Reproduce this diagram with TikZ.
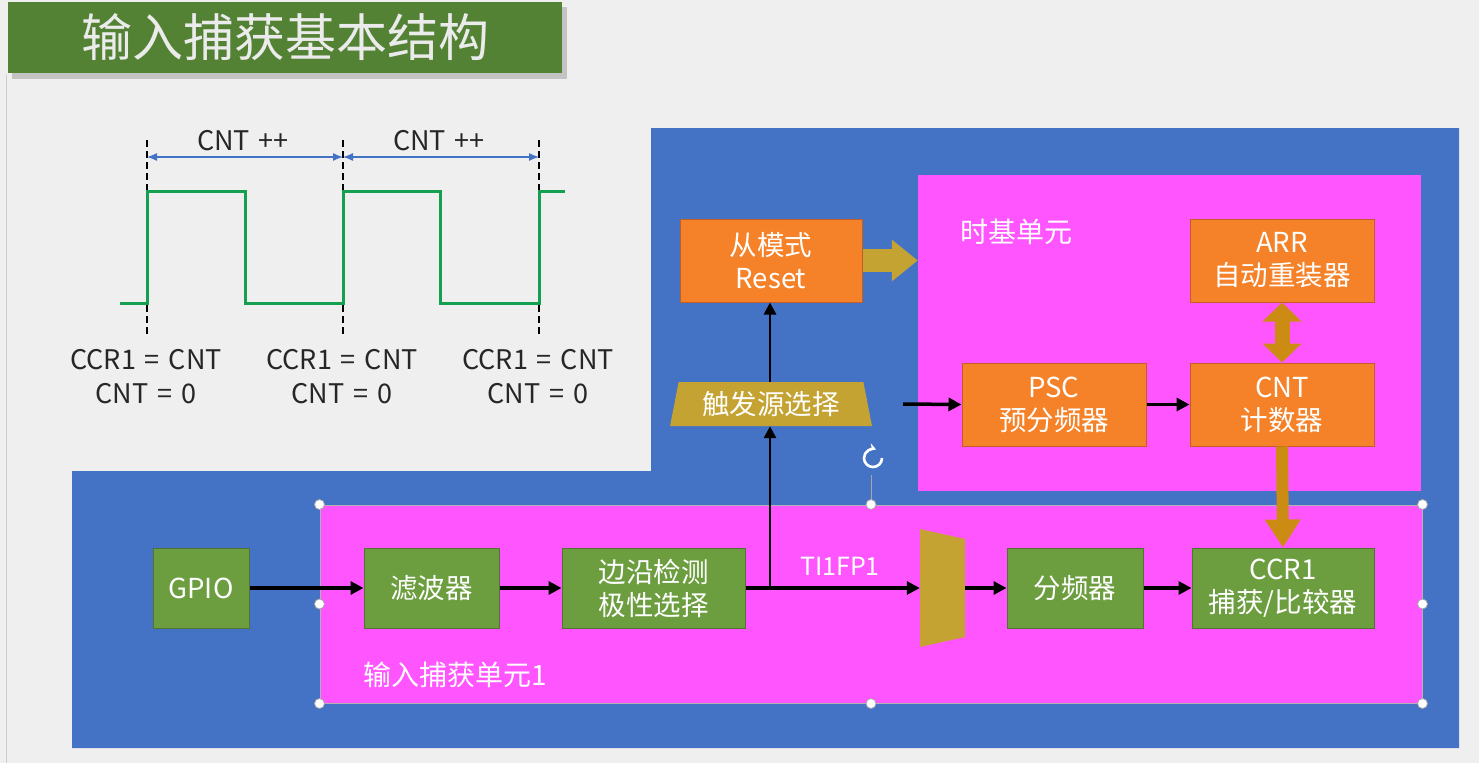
\documentclass[tikz,border=0pt]{standalone}
\usepackage{fontspec}
\setmainfont{Noto Sans CJK SC}
\usetikzlibrary{arrows.meta,shapes.geometric}
\definecolor{bgc}{RGB}{240,239,239}
\definecolor{titlegreen}{RGB}{84,130,53}
\definecolor{bluebg}{RGB}{68,114,196}
\definecolor{magent}{RGB}{255,85,255}
\definecolor{ofill}{RGB}{245,130,40}
\definecolor{obord}{RGB}{190,95,40}
\definecolor{gfill}{RGB}{108,158,64}
\definecolor{gbord}{RGB}{80,115,50}
\definecolor{olive}{RGB}{196,163,50}
\definecolor{amber}{RGB}{204,140,20}
\definecolor{wavegreen}{RGB}{20,160,80}
\definecolor{dimblue}{RGB}{68,114,196}
\newcommand{\boxfont}{\fontsize{27.5}{33}\selectfont}
\newcommand{\wsp}{\hspace{0.33em}}
\tikzset{
  box/.style={line width=1pt, text=white, font=\boxfont, align=center, inner sep=0pt},
  obox/.style={box, draw=obord, fill=ofill},
  gbox/.style={box, draw=gbord, fill=gfill},
  arr/.style={draw=black, line width=3.5pt, -{Triangle[length=13pt,width=13pt]}},
  varr/.style={draw=black, line width=2.8pt, -{Triangle[length=12pt,width=12pt]}},
  wlabel/.style={font=\fontsize{27}{34}\selectfont, text=black!85, align=center, inner sep=0pt},
  dim/.style={draw=dimblue, line width=1.2pt, {Latex[length=10pt,width=8pt]}-{Latex[length=10pt,width=8pt]}},
  unitlabel/.style={font=\fontsize{28}{32}\selectfont, text=white, inner sep=0pt},
  handle/.style={circle, fill=white, draw=gray!70, line width=0.8pt, minimum size=10pt, inner sep=0pt}
}
\begin{document}
\begin{tikzpicture}[x=1pt,y=-1pt]
\useasboundingbox (0,0) rectangle (1479,763);
\fill[bgc] (0,0) rectangle (1479,763);
\draw[gray!40, line width=1pt] (6,75) -- (6,763);
% title
\fill[black, opacity=0.18] (12,7) rectangle (567,79);
\node[fill=titlegreen, minimum width=554pt, minimum height=71pt, inner sep=0pt, text=white!92!black,
      font=\fontsize{51}{56}\selectfont] (title) at (285,37.5) {输入捕获基本结构};
% waveform
\draw[black, line width=2pt, dash pattern=on 7pt off 4pt] (147,140) -- (147,336);
\draw[black, line width=2pt, dash pattern=on 7pt off 4pt] (343,140) -- (343,336);
\draw[black, line width=2pt, dash pattern=on 7pt off 4pt] (539,140) -- (539,336);
\draw[wavegreen, line width=3pt, line join=miter]
  (120,303) -- (147,303) -- (147,191) -- (245,191) -- (245,303) -- (343,303) -- (343,191)
  -- (440,191) -- (440,303) -- (539,303) -- (539,191) -- (565,191);
\coordinate (m1) at (147,157);
\coordinate (m2) at (343,157);
\coordinate (m3) at (539,157);
\draw[dim] (m1) -- (m2);
\draw[dim] (m2) -- (m3);
\node[wlabel] (c1) at (243,141) {CNT\wsp++};
\node[wlabel] (c2) at (439,141) {CNT\wsp++};
\node[wlabel] (w1) at (146,377) {CCR1\wsp=\wsp CNT\\CNT\wsp=\wsp 0};
\node[wlabel] (w2) at (342,377) {CCR1\wsp=\wsp CNT\\CNT\wsp=\wsp 0};
\node[wlabel] (w3) at (538,377) {CCR1\wsp=\wsp CNT\\CNT\wsp=\wsp 0};
% blue region
\fill[bluebg] (651,128) -- (1459,128) -- (1459,748) -- (72,748) -- (72,471) -- (651,471) -- cycle;
% time base unit
\node[fill=magent, minimum width=503pt, minimum height=316pt, inner sep=0pt] (tb) at (1169.5,333) {};
\node[unitlabel, anchor=west] (tblabel) at (960,232) {时基单元};
% input capture unit
\node[fill=magent, draw=gray!60, line width=1pt, minimum width=1102pt, minimum height=198pt, inner sep=0pt] (ic) at (871,604) {};
\node[unitlabel, anchor=west] (iclabel) at (363,675) {输入捕获单元1};
% orange boxes
\node[obox, minimum width=182pt, minimum height=83pt] (slave) at (771,260.5) {从模式\\Reset};
\node[obox, minimum width=184pt, minimum height=83pt] (arrb) at (1282,260.5) {ARR\\自动重装器};
\node[obox, minimum width=184pt, minimum height=83pt] (psc) at (1054,404.5) {PSC\\预分频器};
\node[obox, minimum width=184pt, minimum height=83pt] (cnt) at (1282,404.5) {CNT\\计数器};
% trigger select
\node[trapezium, trapezium stretches=true, trapezium angle=76, fill=olive, minimum width=202pt, minimum height=44pt,
      inner sep=0pt, text=white, font=\boxfont] (trig) at (771,404) {触发源选择};
% green boxes
\node[gbox, minimum width=96pt, minimum height=80pt] (gpio) at (201,588) {GPIO};
\node[gbox, minimum width=135pt, minimum height=80pt] (filt) at (431.5,588) {滤波器};
\node[gbox, minimum width=183pt, minimum height=80pt] (edge) at (653.5,588) {边沿检测\\极性选择};
\node[gbox, minimum width=136pt, minimum height=80pt] (div) at (1075,588) {分频器};
\node[gbox, minimum width=182pt, minimum height=80pt] (ccr) at (1283,588) {CCR1\\捕获/比较器};
% mux
\fill[olive] (920,529) -- (965,539) -- (965,637) -- (920,647) -- cycle;
\node[minimum width=45pt, minimum height=118pt, inner sep=0pt] (mux) at (942.5,588) {};
\node[font=\fontsize{25}{28}\selectfont, text=white, inner sep=0pt] (ti) at (840,566) {TI1FP1};
% thick arrows
\draw[olive, line width=23pt, -{Triangle[length=26pt,width=40pt]}] (slave.east) -- (tb.west |- slave.east);
\draw[amber, line width=15pt, {Triangle[length=19pt,width=38pt]}-{Triangle[length=19pt,width=38pt]}] (arrb.south) -- (cnt.north);
\draw[amber, line width=12pt, -{Triangle[length=28pt,width=34pt]}] (cnt.south) -- (ccr.north);
% black arrows
\coordinate (junc) at (770,588);
\coordinate (pscin) at (903,404);
\draw[arr] (gpio.east) -- (filt.west);
\draw[arr] (filt.east) -- (edge.west);
\draw[arr] (edge.east) -- (mux.west);
\draw[arr] (mux.east) -- (div.west);
\draw[arr] (div.east) -- (ccr.west);
\draw[varr] (junc) -- (junc |- trig.south);
\draw[varr] (junc |- trig.north) -- (junc |- slave.south);
\draw[arr] (pscin) -- (psc.west);
\draw[arr] (psc.east) -- (cnt.west);
% selection handles
\draw[gray!70, line width=1pt] (ic.north) -- ++(0,-30);
\draw[white, line width=2.6pt, -{Stealth[length=7pt,width=8pt]}] (882,458) arc[start angle=0, end angle=290, radius=9];
\foreach \a in {north west,north,north east,west,east,south west,south,south east}
  \node[handle] at (ic.\a) {};
\end{tikzpicture}
\end{document}
